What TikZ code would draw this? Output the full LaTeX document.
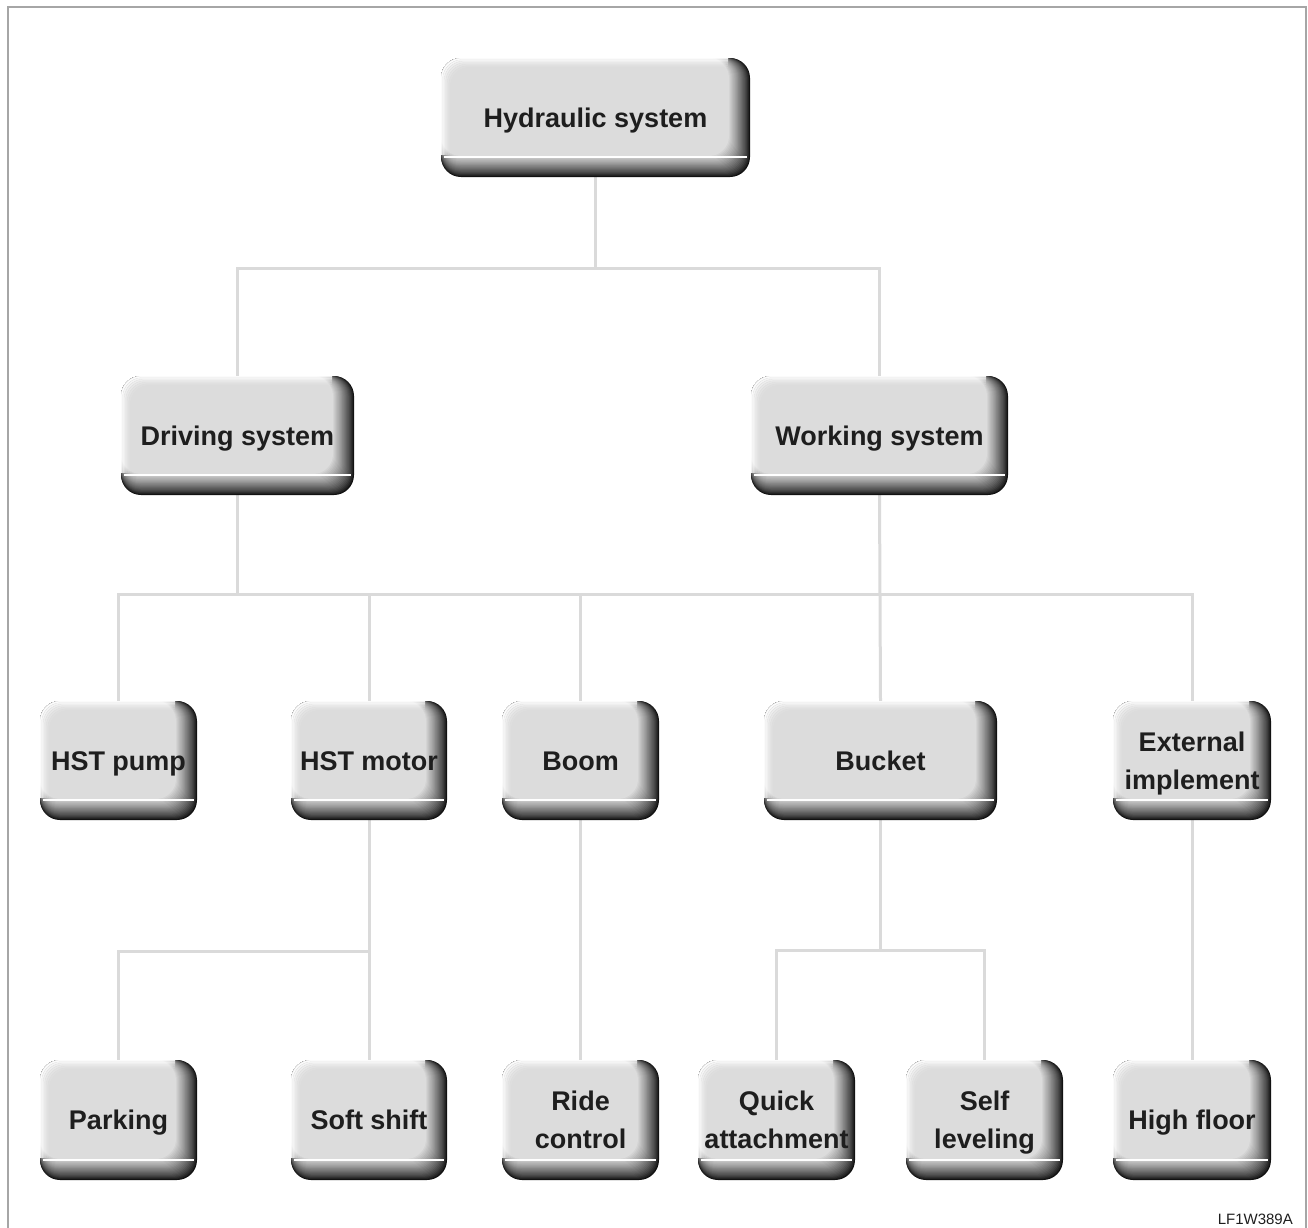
\documentclass[tikz,border=0pt]{standalone}
\usepackage{fontspec}
\setmainfont{Liberation Sans}
\usetikzlibrary{backgrounds}
\definecolor{facegray}{HTML}{DCDCDC}
\definecolor{conngray}{HTML}{DADADA}
\definecolor{framegray}{HTML}{A6A6A6}
\definecolor{txtgray}{HTML}{1E1E1E}
\tikzset{
  conn/.style={draw=conngray, line width=3pt},
  boxshape/.style={inner sep=0pt, draw=none},
  boxtext/.style={inner sep=0pt, draw=none, align=center, text=txtgray, anchor=base,
    font=\fontsize{27}{38}\selectfont\bfseries},
  codelabel/.style={inner sep=0pt, text=txtgray, font=\fontsize{15}{18}\selectfont, anchor=east},
}
% #1 name, #2 x0, #3 y0, #4 x1, #5 y1, #6 baseline offset of last line from centre, #7 text
\newcommand\shbox[7]{%
  \foreach \i in {0,...,20}{%
    \pgfmathsetmacro\sht{\i/20}%
    \pgfmathsetmacro\shp{int(8+92*\sht^0.8)}%
    \fill[facegray!\shp!black, rounded corners=20pt] (#2,#3) rectangle ({#4-21*\sht},{#5-21*\sht});
  }%
  \begin{scope}
    \clip ({#2-3},{#3-3}) rectangle ({#4-22},{#5-23});
    \foreach \j/\op in {0.75/0.9,2.25/0.7,3.75/0.5,5.25/0.32,6.75/0.18,8.25/0.08}{%
      \draw[white, opacity=\op, line width=1.5pt, rounded corners=20pt] ({#2+\j},{#3+\j}) rectangle ({#4-\j},{#5-\j});
    }%
  \end{scope}
  \draw[white, line width=1.2pt] ({#2+3},{#5-20}) -- ({#4-3},{#5-20});
  \pgfmathsetmacro\shw{#4-#2}%
  \pgfmathsetmacro\shh{#5-#3}%
  \node[boxshape, minimum width=\shw pt, minimum height=\shh pt] (#1) at ({(#2+#4)/2},{(#3+#5)/2}) {};
  \node[boxtext] (#1-t) at ({(#2+#4)/2},{(#3+#5)/2+#6}) {#7};
}
\begin{document}
\begin{tikzpicture}[x=1pt,y=-1pt]
\useasboundingbox (0,0) rectangle (1308,1227);
\draw[framegray, line width=2pt] (8,1240) -- (8,7) -- (1306,7) -- (1306,1240);

\shbox{hyd}{441}{58}{750}{177}{9.5}{Hydraulic system}
\shbox{drv}{121}{376}{354}{495}{9.5}{Driving system}
\shbox{wrk}{751}{376}{1008}{495}{9.5}{Working system}
\shbox{hstp}{40}{701}{197}{820}{9.5}{HST pump}
\shbox{hstm}{291}{701}{447}{820}{9.5}{HST motor}
\shbox{boom}{502}{701}{659}{820}{9.5}{Boom}
\shbox{bucket}{764}{701}{997}{820}{9.5}{Bucket}
\shbox{ext}{1113}{701}{1271}{820}{28.5}{External\\implement}
\shbox{park}{40}{1060}{197}{1180}{9.5}{Parking}
\shbox{soft}{291}{1060}{447}{1180}{9.5}{Soft shift}
\shbox{ride}{502}{1060}{659}{1180}{28.5}{Ride\\control}
\shbox{quick}{698}{1060}{855}{1180}{28.5}{Quick\\attachment}
\shbox{self}{906}{1060}{1063}{1180}{28.5}{Self\\leveling}
\shbox{high}{1113}{1060}{1271}{1180}{9.5}{High floor}

\node[codelabel] (code) at (1293,1219) {LF1W389A};

\coordinate (b1) at (0,268);
\coordinate (b2) at (0,594);
\coordinate (b3) at (0,951);
\coordinate (b4) at (0,950);

\begin{pgfonlayer}{background}
\draw[conn] (hyd.south) -- (hyd.south |- b1);
\draw[conn] (drv.north) |- (wrk.north |- b1) -- (wrk.north);
\draw[conn] (drv.south) -- (drv.south |- b2);
\draw[conn] (wrk.south) -- (bucket.north);
\draw[conn] (hstp.north) |- (ext.north |- b2) -- (ext.north);
\draw[conn] (hstm.north) -- (hstm.north |- b2);
\draw[conn] (boom.north) -- (boom.north |- b2);
\draw[conn] (hstm.south) -- (soft.north);
\draw[conn] (park.north) |- (soft.north |- b3);
\draw[conn] (boom.south) -- (ride.north);
\draw[conn] (bucket.south) -- (bucket.south |- b4);
\draw[conn] (quick.north) |- (self.north |- b4) -- (self.north);
\draw[conn] (ext.south) -- (high.north);
\end{pgfonlayer}
\end{tikzpicture}
\end{document}
